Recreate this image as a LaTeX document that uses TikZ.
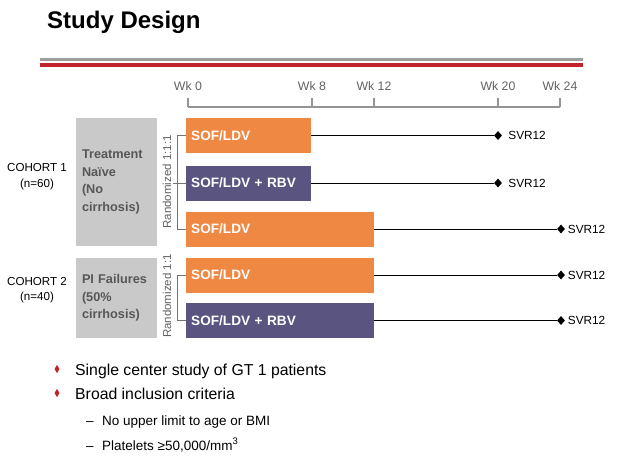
\documentclass[tikz,border=0pt]{standalone}
\usepackage{fontspec}
\setmainfont{Liberation Sans}
\usepackage{tikz}
\usetikzlibrary{shapes.geometric, positioning}

\definecolor{barorange}{RGB}{239,136,66}
\definecolor{barpurple}{RGB}{89,84,128}
\definecolor{boxgray}{RGB}{201,201,201}
\definecolor{rulered}{RGB}{193,36,45}

\begin{document}
\begin{tikzpicture}[
    x=1pt, y=-1pt,
    % Define styles for consistency
    axis/.style={line width=1.1pt, color=black!42},
    wk_label/.style={font=\fontsize{12.3}{14}\selectfont, text=black!62, inner sep=0pt},
    bar/.style={anchor=west, minimum height=35pt, inner xsep=5pt, inner ysep=0pt,
        text width=#1, align=left, text=white,
        font=\bfseries\fontsize{13.6}{15}\selectfont},
    bar_orange/.style={bar=#1, fill=barorange},
    bar_purple/.style={bar=#1, fill=barpurple},
    cohort_box/.style={fill=boxgray, inner xsep=6pt, inner ysep=0pt, text width=69pt,
        align=left, text=black!66, font=\bfseries\fontsize{12.7}{17.5}\selectfont},
    cohort_label/.style={align=center, font=\fontsize{11.6}{16}\selectfont},
    rand_label/.style={rotate=90, text=black!62, inner sep=0pt,
        font=\fontsize{11.5}{13}\selectfont},
    bracket/.style={line width=0.9pt, color=black!55},
    svr_line/.style={line width=0.9pt, black},
    svr_mark/.style={diamond, fill=black, inner sep=0pt, minimum width=8pt, minimum height=9pt},
    svr_label/.style={anchor=west, inner sep=0pt, font=\fontsize{11.8}{13}\selectfont},
    bullet_mark/.style={diamond, fill=rulered, inner sep=0pt, minimum width=5pt, minimum height=8.5pt},
    bullet_text/.style={anchor=base west, inner sep=0pt, font=\fontsize{15.8}{18}\selectfont},
    sub_text/.style={anchor=base west, inner sep=0pt, font=\fontsize{13.5}{16}\selectfont}
]
    \useasboundingbox (0,0) rectangle (620,467);

    % ---------------------------------------------------------
    % 1. Title and rules
    % ---------------------------------------------------------
    \node[anchor=base west, inner sep=0pt, font=\bfseries\fontsize{24}{28}\selectfont]
        (title) at (47,28) {Study Design};
    \draw[line width=3pt, color=black!38] (40,59) -- (583,59);
    \draw[line width=4pt, color=rulered] (40,64.5) -- (583,64.5);

    % ---------------------------------------------------------
    % 2. Week axis
    % ---------------------------------------------------------
    \foreach \w in {0,8,12,20,24} {
        \coordinate (tick\w) at ({188+15.5*\w},107);
        \node[wk_label] (wk\w) at ({188+15.5*\w},86) {Wk \w};
        \draw[axis] (tick\w) -- ++(0,-9);
    }
    \draw[axis] (tick0) -- (tick24);

    % ---------------------------------------------------------
    % 3. Cohorts
    % ---------------------------------------------------------
    \node[cohort_label] (coh1) at (37,177) {COHORT 1\\(n=60)};
    \node[cohort_label, font=\fontsize{11.6}{15}\selectfont] (coh2) at (37,290.5) {COHORT 2\\(n=40)};

    \node[cohort_box, minimum height=128pt] (box1) at (116.5,182) {Treatment\\Na\"ive\\(No\\cirrhosis)};
    \node[cohort_box, minimum height=80pt] (box2) at (116.5,298) {PI Failures\\(50\%\\cirrhosis)};

    \node[rand_label] (rand1) at (167,182) {Randomized 1:1:1};
    \node[rand_label] (rand2) at (167,296) {Randomized 1:1};

    % ---------------------------------------------------------
    % 4. Treatment arms
    % ---------------------------------------------------------
    \node[bar_orange=115pt] (arm1) at (186,135.5) {SOF/LDV};
    \node[bar_purple=115pt] (arm2) at (186,183) {SOF/LDV + RBV};
    \node[bar_orange=178pt] (arm3) at (186,229) {SOF/LDV};
    \node[bar_orange=178pt] (arm4) at (186,275) {SOF/LDV};
    \node[bar_purple=178pt] (arm5) at (186,320.5) {SOF/LDV + RBV};

    % Randomization brackets
    \draw[bracket] (arm1.west) -- ++(-9,0) |- (arm3.west);
    \draw[bracket] (arm2.west) -- ++(-13,0);
    \draw[bracket] (arm4.west) -- ++(-9,0) |- (arm5.west);

    % Follow-up to SVR12
    \node[svr_mark] (svr1) at (498,135.5) {};
    \node[svr_mark] (svr2) at (498,183) {};
    \node[svr_mark] (svr3) at (561,229) {};
    \node[svr_mark] (svr4) at (561,275) {};
    \node[svr_mark] (svr5) at (561,320.5) {};
    \foreach \i in {1,...,5} {
        \draw[svr_line] (arm\i.east) -- (svr\i);
    }
    \node[svr_label, right=6pt of svr1.east, anchor=west] (lab1) {SVR12};
    \node[svr_label, right=6pt of svr2.east, anchor=west] (lab2) {SVR12};
    \node[svr_label, right=2.5pt of svr3.east, anchor=west] (lab3) {SVR12};
    \node[svr_label, right=2.5pt of svr4.east, anchor=west] (lab4) {SVR12};
    \node[svr_label, right=2.5pt of svr5.east, anchor=west] (lab5) {SVR12};

    % ---------------------------------------------------------
    % 5. Notes
    % ---------------------------------------------------------
    \node[bullet_mark] (dot1) at (57,369) {};
    \node[bullet_mark] (dot2) at (57,393) {};
    \node[bullet_text] (note1) at (75,375) {Single center study of GT 1 patients};
    \node[bullet_text] (note2) at (75,399) {Broad inclusion criteria};
    \node[sub_text] (dash1) at (86,425) {--};
    \node[sub_text] (dash2) at (86,450) {--};
    \node[sub_text] (sub1) at (102,425) {No upper limit to age or BMI};
    \node[sub_text] (sub2) at (102,450) {Platelets ≥50,000/mm\textsuperscript{3}};
\end{tikzpicture}
\end{document}
